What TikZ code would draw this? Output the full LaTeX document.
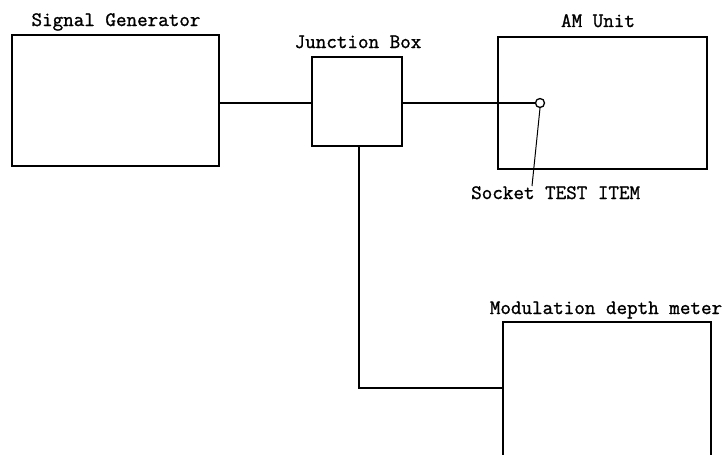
\documentclass[tikz,border=0pt]{standalone}
\usepackage{fontspec}
\newfontfamily\typer{Latin Modern Mono}[BoldFont={Latin Modern Mono}, BoldFeatures={FakeBold=1.2}]
\begin{document}
\begin{tikzpicture}[x=1pt,y=-1pt,
  box/.style={draw, line width=1.9pt, inner sep=0pt, outer sep=0pt},
  lbl/.style={font=\typer\bfseries\fontsize{20.5}{23}\selectfont, inner sep=0pt, anchor=base},
  wire/.style={line width=1.5pt}]
\clip (0,0) rectangle (728,455);
\fill[white] (0,0) rectangle (728,455);
% boxes
\node[box, minimum width=207pt, minimum height=131pt] (sg) at (115.5,100.5) {};
\node[box, minimum width=90pt, minimum height=89pt] (jb) at (357,101.5) {};
\node[box, minimum width=209pt, minimum height=132pt] (am) at (602.5,103) {};
\node[box, minimum width=208pt, minimum height=160pt] (mdm) at (607,402) {};
% labels
\node[lbl] (sgl) at (116,26) {Signal Generator};
\node[lbl] (jbl) at (358,48) {Junction Box};
\node[lbl] (aml) at (598,27) {AM Unit};
\node[lbl] (mdml) at (606,314) {Modulation depth meter};
\node[lbl, anchor=base west] (sockl) at (471,199) {Socket TEST ITEM};
% socket
\node[circle, draw, line width=1.3pt, minimum size=9pt, inner sep=0pt] (sock) at (540,103) {};
\coordinate (lead) at (532,186);
\draw[line width=1pt] (sock.south) -- (lead);
% connectors
\draw[wire] (sg.east |- 0,103) -- (jb.west |- 0,103);
\draw[wire] (jb.east |- 0,103) -- (sock.west);
\coordinate (bend) at (359,388);
\draw[wire] (jb.south -| bend) -- (bend) -- (bend -| mdm.west);
\end{tikzpicture}
\end{document}
